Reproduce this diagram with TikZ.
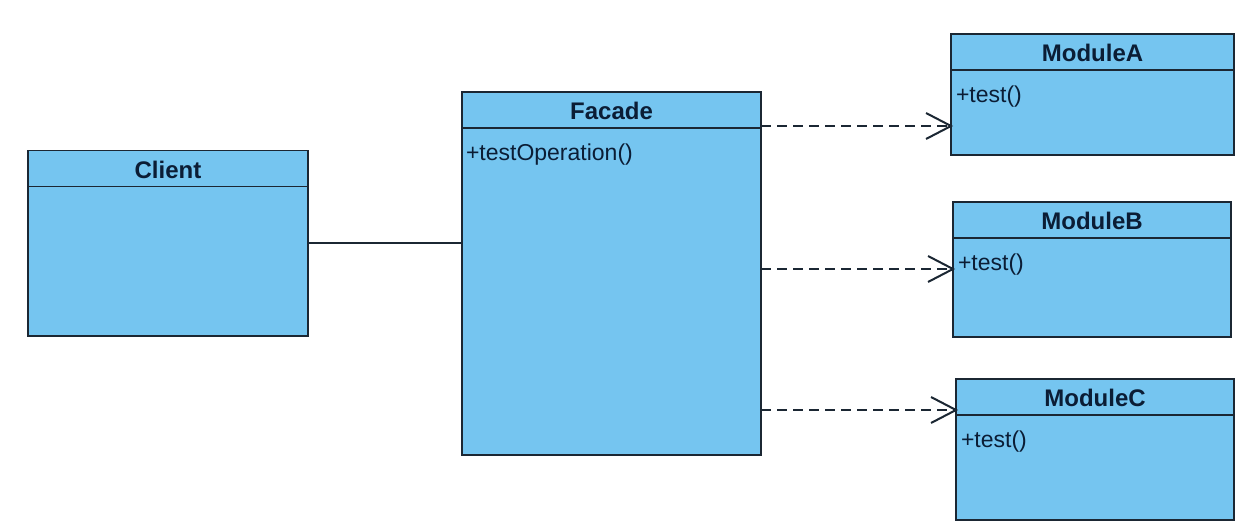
\documentclass[tikz,border=0pt]{standalone}
\usepackage{fontspec}
\setmainfont{Liberation Sans}
\usetikzlibrary{positioning}

\definecolor{classfill}{HTML}{75C5F0}
\definecolor{classline}{HTML}{1B2733}
\definecolor{classtext}{HTML}{0B1D35}

\begin{document}
\begin{tikzpicture}
[x=1pt,y=-1pt,
 every node/.style={inner sep=0pt,outer sep=0pt},
 classbox/.style={rectangle,draw=classline,fill=classfill,line width=1.8pt,anchor=north west},
 classname/.style={font=\bfseries\fontsize{24}{28}\selectfont,text=classtext},
 classop/.style={font=\fontsize{23}{27}\selectfont,text=classtext,anchor=base west},
 assoc/.style={draw=classline,line width=1.5pt},
 depend/.style={draw=classline,line width=1.5pt,dash pattern=on 10pt off 6pt},
 openhead/.style={draw=classline,line width=2pt,line join=miter}]

\useasboundingbox[fill=white] (0,0) rectangle (1250,526);

% class boxes
\node[classbox,minimum width=280pt,minimum height=185.5pt] (Client) at (28,150.5) {};
\node[classbox,minimum width=299pt,minimum height=363pt] (Facade) at (462,92) {};
\node[classbox,minimum width=283pt,minimum height=121pt] (ModuleA) at (951,34) {};
\node[classbox,minimum width=278pt,minimum height=135pt] (ModuleB) at (953,202) {};
\node[classbox,minimum width=278pt,minimum height=141pt] (ModuleC) at (956,379) {};

% header lines and names
\foreach \c in {Client,Facade,ModuleA,ModuleB,ModuleC} {
  \draw[classline,line width=1.8pt] ([yshift=-36pt]\c.north west) -- ([yshift=-36pt]\c.north east);
  \node[classname] (\c Name) at ([yshift=-19pt]\c.north) {\c};
}

% operations
\node[classop] (FacadeOp) at ([xshift=4pt,yshift=-68.5pt]Facade.north west) {+testOperation()};
\node[classop] (ModuleAOp) at ([xshift=5pt,yshift=-68.5pt]ModuleA.north west) {+test()};
\node[classop] (ModuleBOp) at ([xshift=5pt,yshift=-68.5pt]ModuleB.north west) {+test()};
\node[classop] (ModuleCOp) at ([xshift=5pt,yshift=-68.5pt]ModuleC.north west) {+test()};

% connectors
\draw[assoc] (Client.east) -- (Client.east -| Facade.west);
\foreach \m/\y in {ModuleA/126,ModuleB/269,ModuleC/410} {
  \coordinate (\m From) at (Facade.east |- 0,\y);
  \coordinate (\m Tip) at (\m.west |- 0,\y);
  \draw[depend] (\m From) -- (\m Tip);
  \draw[openhead] ([xshift=-25pt,yshift=13pt]\m Tip) -- (\m Tip) -- ([xshift=-25pt,yshift=-13pt]\m Tip);
}
\end{tikzpicture}
\end{document}
